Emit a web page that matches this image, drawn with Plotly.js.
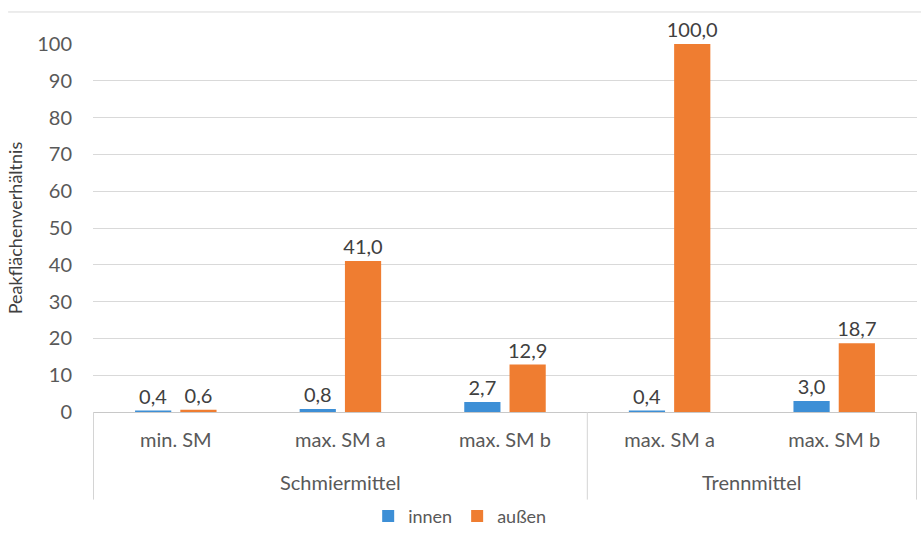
<!DOCTYPE html>
<html>
<head>
<meta charset="utf-8">
<script src="https://cdn.plot.ly/plotly-3.0.1.min.js"></script>
<style>
  html, body { margin: 0; padding: 0; background: #ffffff; }
  #chart { width: 921px; height: 534px; }
</style>
</head>
<body>
<div id="chart"></div>
<script>
// Groups (outer level) and product variants (inner level) of the category axis
const groups = ["Schmiermittel", "Schmiermittel", "Schmiermittel", "Trennmittel", "Trennmittel"];
const variants = ["min. SM", "max. SM a", "max. SM b", "max. SM a", "max. SM b"];

// Peak area ratios per position
const innen = [0.4, 0.8, 2.7, 0.4, 3.0];
const aussen = [0.6, 41.0, 12.9, 100.0, 18.7];

const seriesNames = ["innen", "außen"];
const yTicks = [0, 10, 20, 30, 40, 50, 60, 70, 80, 90, 100];

const FONT = "Lato, 'Open Sans', sans-serif";
const TEXT = "#595959";
const fmt = v => v.toFixed(1).replace(".", ",");

// unique category keys (variant names repeat across groups)
const keys = variants.map((v, i) => groups[i] + " / " + v);

function barTrace(name, values, color) {
  return {
    type: "bar",
    name: name,
    x: keys,
    y: values,
    marker: { color: color },
    text: values.map(fmt),
    textposition: "outside",
    textfont: { family: FONT, size: 20, color: "#404040" },
    constraintext: "none",
    cliponaxis: false,
    hoverinfo: "skip"
  };
}

const data = [
  barTrace(seriesNames[0], innen, "#3d8fd6"),
  barTrace(seriesNames[1], aussen, "#ef7d31")
];

// outer group spans: label at the centre, dividers at the edges
const spans = [];
groups.forEach((g, i) => {
  const last = spans[spans.length - 1];
  if (last && last.name === g) last.end = i;
  else spans.push({ name: g, start: i, end: i });
});

const DIV_BOTTOM = -0.238;   // paper y where divider lines end
const shapes = [
  {
    type: "line", xref: "paper", yref: "paper",
    x0: -0.103, x1: 1.01, y0: 1.087, y1: 1.087,
    line: { color: "#d9d9d9", width: 1 }
  }
];
const edges = [spans[0].start - 0.5].concat(spans.map(s => s.end + 0.5));
edges.forEach(e => shapes.push({
  type: "line", xref: "x", yref: "paper",
  x0: e, x1: e, y0: 0, y1: DIV_BOTTOM,
  line: { color: "#d4d4d4", width: 1 }
}));

const annotations = spans.map(s => ({
  xref: "x", yref: "paper",
  x: (s.start + s.end) / 2, y: -0.19,
  xanchor: "center", yanchor: "middle",
  text: s.name, showarrow: false,
  font: { family: FONT, size: 20, color: TEXT }
}));

const layout = {
  width: 921,
  height: 534,
  margin: { l: 93, r: 4, t: 44, b: 122 },
  paper_bgcolor: "#ffffff",
  plot_bgcolor: "#ffffff",
  font: { family: FONT, size: 20, color: TEXT },
  barmode: "group",
  bargap: 0.45,
  bargroupgap: 0.2,
  showlegend: true,
  legend: {
    orientation: "h",
    xref: "paper", yref: "container",
    x: 0.445, xanchor: "center",
    y: 0.033, yanchor: "middle",
    font: { family: FONT, size: 18, color: TEXT },
    itemwidth: 30,
    traceorder: "normal"
  },
  xaxis: {
    type: "category",
    tickmode: "array",
    tickvals: keys,
    ticktext: variants,
    automargin: false,
    showgrid: false,
    showline: true,
    linecolor: "#c8c8c8",
    linewidth: 1,
    ticks: "",
    ticklabelstandoff: 10,
    tickfont: { family: FONT, size: 20, color: TEXT },
    fixedrange: true
  },
  yaxis: {
    range: [0, 100],
    tickvals: yTicks,
    ticktext: yTicks.map(String),
    automargin: false,
    showgrid: true,
    gridcolor: "#d9d9d9",
    gridwidth: 1,
    zeroline: false,
    showline: false,
    ticks: "",
    ticklabelstandoff: 20,
    tickfont: { family: FONT, size: 20, color: TEXT },
    title: {
      text: "Peakflächenverhältnis",
      font: { family: FONT, size: 18, color: "#404040" },
      standoff: 9
    },
    fixedrange: true
  },
  shapes: shapes,
  annotations: annotations
};

Plotly.newPlot("chart", data, layout, { displayModeBar: false, staticPlot: true });
</script>
</body>
</html>
